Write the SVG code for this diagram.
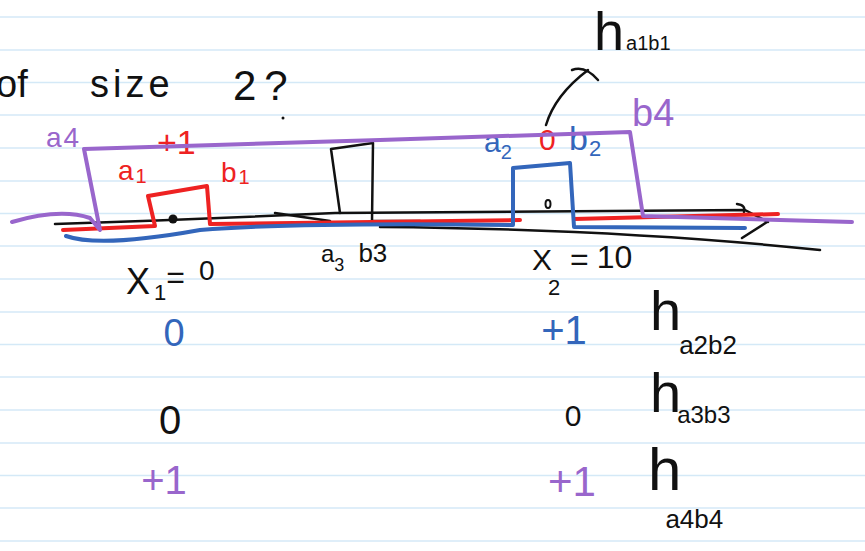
<svg xmlns="http://www.w3.org/2000/svg" width="865" height="551" viewBox="0 0 865 551">
<style>
.rule{stroke:#d4e9f7;stroke-width:1.5}
.s{fill:none;stroke-linecap:round;stroke-linejoin:round}
.pu{stroke:#9966cc;stroke-width:4}
.rd{stroke:#ee2222;stroke-width:4}
.bl{stroke:#3366bb;stroke-width:4}
.bk{stroke:#111;stroke-width:2.5}
text{font-family:"Liberation Sans","DejaVu Sans",sans-serif}
.tk{fill:#111}.tp{fill:#9966cc}.tr{fill:#ee2222}.tb{fill:#3366bb}
</style>
<rect width="865" height="551" fill="#fff"/>
<g id="rules">
<line class="rule" x1="0" y1="17" x2="865" y2="17"/>
<line class="rule" x1="0" y1="50" x2="865" y2="50"/>
<line class="rule" x1="0" y1="82.5" x2="865" y2="82.5"/>
<line class="rule" x1="0" y1="115" x2="865" y2="115"/>
<line class="rule" x1="0" y1="148" x2="865" y2="148"/>
<line class="rule" x1="0" y1="181" x2="865" y2="181"/>
<line class="rule" x1="0" y1="213.5" x2="865" y2="213.5"/>
<line class="rule" x1="0" y1="246" x2="865" y2="246"/>
<line class="rule" x1="0" y1="279" x2="865" y2="279"/>
<line class="rule" x1="0" y1="312" x2="865" y2="312"/>
<line class="rule" x1="0" y1="344.5" x2="865" y2="344.5"/>
<line class="rule" x1="0" y1="377" x2="865" y2="377"/>
<line class="rule" x1="0" y1="410" x2="865" y2="410"/>
<line class="rule" x1="0" y1="443" x2="865" y2="443"/>
<line class="rule" x1="0" y1="475.5" x2="865" y2="475.5"/>
<line class="rule" x1="0" y1="508" x2="865" y2="508"/>
<line class="rule" x1="0" y1="541" x2="865" y2="541"/>
</g>
<g id="title">
<text class="tk" x="-4" y="97" font-size="38">of</text>
<text class="tk" x="90" y="97" font-size="38" letter-spacing="4">size</text>
<text class="tk" x="233" y="100" font-size="42" letter-spacing="8">2?</text>
<circle cx="283" cy="118" r="1.5" fill="#111"/>
</g>
<g id="axis">
<path class="s bk" d="M55,224 Q200,219 335,213 L745,210 L768,222"/>
<path class="s bk" d="M737,204 Q746,205 744,212"/>
<path class="s bk" d="M767,222 L742,238"/>
<path class="s bk" d="M380,227 Q620,229 820,250"/>
<path class="s bk" d="M275,213 L330,221"/>
<circle cx="173" cy="219" r="4.5" fill="#111"/>
<ellipse cx="548" cy="204" rx="2.5" ry="4" fill="none" stroke="#111" stroke-width="2"/>
</g>
<g id="interval-a3b3">
<path class="s bk" d="M340,213 L331,149 L373,143 L372,221 L420,221"/>
<text class="tk" x="321" y="262" font-size="24">a<tspan font-size="18" dy="9">3</tspan><tspan font-size="26" dy="-9" dx="14">b3</tspan></text>
</g>
<g id="interval-a1b1">
<path class="s rd" d="M63,230 L155,226 L148,196 L207,186 L210,224 Q420,221 520,220 M574,219 L778,214"/>
<text class="tr" x="118" y="180" font-size="28">a<tspan font-size="20" dx="2" dy="3">1</tspan></text>
<text class="tr" x="221" y="182" font-size="28">b<tspan font-size="20" dx="2" dy="2">1</tspan></text>
<text class="tr" x="157" y="154" font-size="34">+1</text>
<text class="tr" x="539" y="150" font-size="30">0</text>
</g>
<g id="interval-a2b2">
<path class="s bl" d="M66,236 Q100,248 200,230 Q300,222 513,225 L513,168 L570,163 L574,227 L745,228"/>
<text class="tb" x="484" y="152" font-size="30">a<tspan font-size="20" dy="7">2</tspan></text>
<text class="tb" x="569" y="150" font-size="34">b<tspan font-size="22" dx="1" dy="6">2</tspan></text>
</g>
<g id="interval-a4b4">
<path class="s pu" d="M12,222 Q60,208 90,218 L100,230 L84,149 L380,140 L630,132 L643,216 L852,222"/>
<text class="tp" x="46" y="147" font-size="28" letter-spacing="2">a4</text>
<text class="tp" x="632" y="126" font-size="38">b4</text>
</g>
<g id="label-ha1b1">
<path class="s bk" d="M546,125 Q555,95 588,70"/>
<path class="s bk" d="M572,70 Q585,65 598,80"/>
<text class="tk" x="594" y="50" font-size="54">h<tspan font-size="20" dx="2">a1b1</tspan></text>
</g>
<g id="points">
<text class="tk" x="126" y="294" font-size="36">X<tspan font-size="22" dx="4" dy="6">1</tspan><tspan font-size="32" dy="-12">=</tspan><tspan font-size="28" dx="14" dy="-8">0</tspan></text>
<text class="tk" x="532" y="270" font-size="30">X</text>
<text class="tk" x="548" y="295" font-size="22">2</text>
<text class="tk" x="570" y="270" font-size="32">=<tspan dx="8" dy="-2">10</tspan></text>
</g>
<g id="table">
<text class="tb" x="174" y="346" font-size="38" text-anchor="middle">0</text>
<text class="tk" x="170" y="434" font-size="40" text-anchor="middle">0</text>
<text class="tp" x="164" y="494" font-size="40" text-anchor="middle">+1</text>
<text class="tb" x="564" y="344" font-size="40" text-anchor="middle">+1</text>
<text class="tk" x="573" y="426" font-size="30" text-anchor="middle">0</text>
<text class="tp" x="572" y="496" font-size="42" text-anchor="middle">+1</text>
<text class="tk" x="650" y="330" font-size="56">h<tspan font-size="26" dx="-2" dy="24">a2b2</tspan></text>
<text class="tk" x="650" y="412" font-size="56">h<tspan font-size="24" dx="-4" dy="11">a3b3</tspan></text>
<text class="tk" x="648" y="490" font-size="60">h<tspan font-size="26" dx="-16" dy="38">a4b4</tspan></text>
</g>
</svg>
